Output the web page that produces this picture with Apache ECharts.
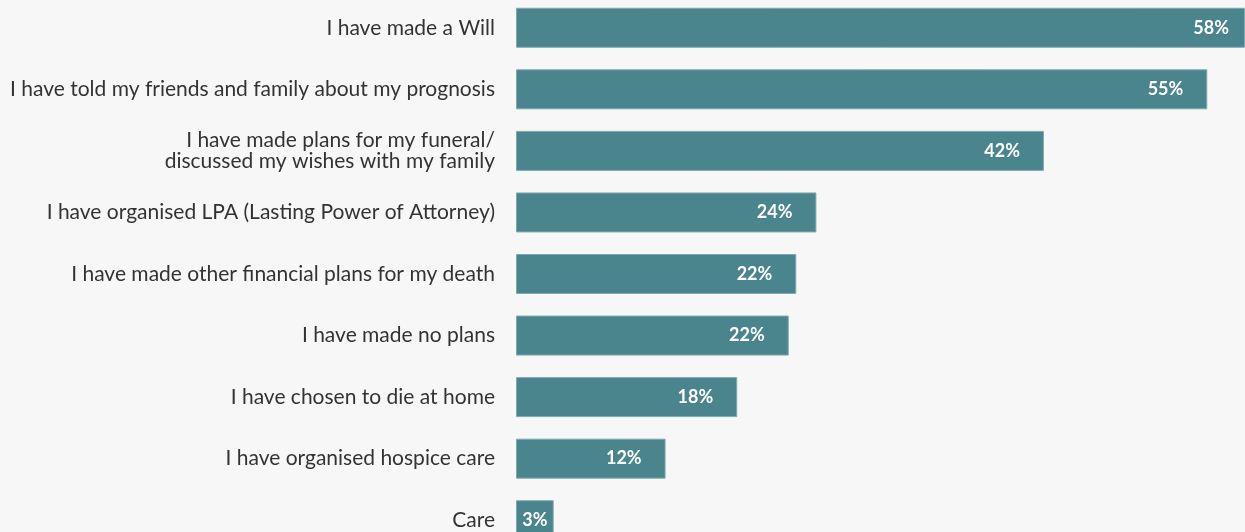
<!DOCTYPE html>
<html><head><meta charset="utf-8">
<script src="https://cdn.jsdelivr.net/npm/echarts@6/dist/echarts.min.js"></script>
<style>html,body{margin:0;padding:0;background:#f7f7f7;}#c{width:1245px;height:532px;}</style>
</head><body><div id="c"></div>
<script>
const categories = [
  "I have made a Will",
  "I have told my friends and family about my prognosis",
  "I have made plans for my funeral/\ndiscussed my wishes with my family",
  "I have organised LPA (Lasting Power of Attorney)",
  "I have made other financial plans for my death",
  "I have made no plans",
  "I have chosen to die at home",
  "I have organised hospice care",
  "Care"
];
const values = [58, 55, 42, 23.9, 22.3, 21.7, 17.6, 11.9, 3.0];
const valueLabels = ["58%", "55%", "42%", "24%", "22%", "22%", "18%", "12%", "3%"];

const chart = echarts.init(document.getElementById('c'), null, {renderer:'canvas'});
const data = values.map((v, i) => {
  const d = {value: v};
  if (i === 0) d.label = {distance: 16};
  if (v < 5) d.label = {position: 'inside'};
  return d;
});
chart.setOption({
  backgroundColor: '#f7f7f7',
  animation: false,
  grid: {left: 516, right: 0, top: -3, height: 554, containLabel: false, outerBoundsMode: 'none'},
  xAxis: {type: 'value', min: 0, max: 58, show: false},
  yAxis: {
    type: 'category', inverse: true, data: categories,
    axisLine: {show: false}, axisTick: {show: false},
    axisLabel: {fontFamily: 'Lato', fontSize: 21, color: '#333333', margin: 21, align: 'right', lineHeight: 21}
  },
  series: [{
    type: 'bar', data: data, barWidth: 40,
    itemStyle: {color: '#4a848c', borderColor: '#7fa9b0', borderWidth: 1},
    label: {
      show: true, position: 'insideRight', distance: 24,
      fontFamily: 'Lato', fontSize: 18, fontWeight: 'bold', color: '#ffffff',
      formatter: p => valueLabels[p.dataIndex]
    }
  }]
});
</script></body></html>
